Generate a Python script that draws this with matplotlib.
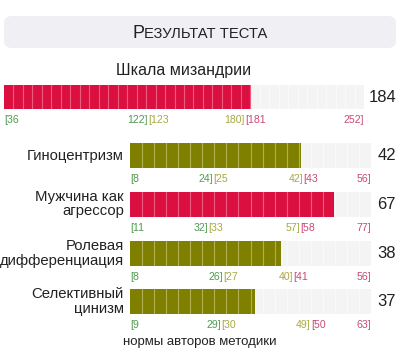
import matplotlib
matplotlib.use("Agg")
import matplotlib.pyplot as plt
from matplotlib.patches import FancyBboxPatch

plt.rcParams['font.family'] = ['Liberation Sans', 'DejaVu Sans']

title = "Результат теста"
main_name = "Шкала мизандрии"
main_value = 184
main_bounds = [36, 122, 123, 180, 181, 252]

sub_names = ["Гиноцентризм", "Мужчина как\nагрессор", "Ролевая\nдифференциация", "Селективный\nцинизм"]
sub_values = [42, 67, 38, 37]
sub_bounds = [
    [8, 24, 25, 42, 43, 56],
    [11, 32, 33, 57, 58, 77],
    [8, 26, 27, 40, 41, 56],
    [9, 29, 30, 49, 50, 63],
]
footer = "нормы авторов методики"

W, H = 400, 355
fig = plt.figure(figsize=(4.0, 3.55), dpi=100)
fig.patch.set_facecolor("white")

RED = "#dc1040"
RED_LINE = "#ee5a80"
OLIVE = "#808000"
OLIVE_LINE = "#b0b050"
EMPTY = "#f4f4f4"
GREEN_T = "#4f9a4f"
OLIVE_T = "#a8a840"
PINK_T = "#c84a78"

def fx(x):
    return x / W

def fy(y):
    return 1 - y / H

# title box
box = FancyBboxPatch((fx(4), fy(48)), fx(392), 32 / H,
                     boxstyle="round,pad=0,rounding_size=0.02",
                     transform=fig.transFigure, facecolor="#efeff4", edgecolor="none")
fig.patches.append(box)
# small caps title
fig.text(fx(133), fy(37.5), title[0], fontsize=13, color="#222222", ha="left", va="baseline")
fig.text(fx(144.5), fy(37.5), title[1:].upper(), fontsize=10.6, color="#222222", ha="left", va="baseline")

def draw_bar(x0, y0, w, h, bounds, value, nseg, name=None, label_y=None):
    lo, hi = bounds[0], bounds[-1]
    ax = fig.add_axes([fx(x0), fy(y0 + h), w / W, h / H])
    ax.set_xlim(lo, hi)
    ax.set_ylim(0, 1)
    ax.axis("off")
    color = RED if value > bounds[3] else OLIVE
    line = RED_LINE if value > bounds[3] else OLIVE_LINE
    ax.barh(0.5, hi - lo, left=lo, height=1, color=EMPTY)
    ax.barh(0.5, value - lo, left=lo, height=1, color=color)
    step = (hi - lo) / nseg
    for k in range(1, nseg):
        xv = lo + k * step
        if xv < value:
            ax.axvline(xv, color=line, lw=0.8)
        else:
            ax.axvline(xv, color="white", lw=0.6, alpha=0.6)
    fig.text(fx(396), fy(y0 + h / 2), str(value), fontsize=12, color="#222222", ha="right", va="center")
    tr = ax.get_xaxis_transform()
    kw = dict(fontsize=7.6, va="center", transform=tr, clip_on=False)
    yl = 0.5 - (label_y - (y0 + h / 2)) / h
    m1 = (bounds[1] + bounds[2]) / 2
    m2 = (bounds[3] + bounds[4]) / 2
    ax.text(bounds[0], yl, f"[{bounds[0]}", color=GREEN_T, ha="left", **kw)
    ax.text(m1, yl, f"{bounds[1]}]", color=GREEN_T, ha="right", **kw)
    ax.text(m1, yl, f"[{bounds[2]}", color=OLIVE_T, ha="left", **kw)
    ax.text(m2, yl, f"{bounds[3]}]", color=OLIVE_T, ha="right", **kw)
    ax.text(m2, yl, f"[{bounds[4]}", color=PINK_T, ha="left", **kw)
    ax.text(bounds[5], yl, f"{bounds[5]}]", color=PINK_T, ha="right", **kw)
    if name:
        fig.text(fx(124), fy(y0 + h / 2), name, fontsize=10.7, color="#222222", ha="right", va="center",
                 linespacing=1.0)
    return ax

fig.text(fx(184), fy(70), main_name, fontsize=11.5, color="#222222", ha="center", va="center")
draw_bar(4, 85, 360, 24, main_bounds, main_value, 38, label_y=120)

tops = [143, 192, 241, 289]
for nm, v, b, t in zip(sub_names, sub_values, sub_bounds, tops):
    draw_bar(130, t, 241, 25, b, v, 20, name=nm, label_y=t + 36)

fig.text(fx(200), fy(342), footer, fontsize=9.5, color="#222222", ha="center", va="center")

fig.savefig("out.png", dpi=100, facecolor="white")
